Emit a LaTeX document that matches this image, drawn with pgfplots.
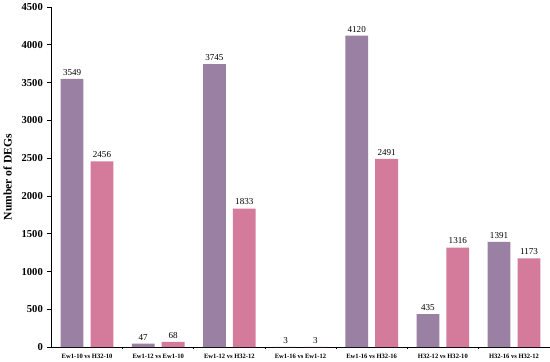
\documentclass[border=0pt]{standalone}
\usepackage{pgfplots}
\pgfplotsset{compat=1.18}
\usepackage{fontspec}
\setmainfont{Liberation Serif}
\definecolor{cpurple}{HTML}{9A80A2}
\definecolor{cpink}{HTML}{D47B9C}
\begin{document}
\begin{tikzpicture}
\begin{axis}[
  scale only axis,
  width=492bp, height=336bp,
  xmin=-0.5, xmax=6.5,
  ymin=0, ymax=4500,
  ytick={0,500,...,4500},
  xtick={0,...,6},
  xticklabels={Ew1-10 vs H32-10, Ew1-12 vs Ew1-10, Ew1-12 vs H32-12, Ew1-16 vs Ew1-12, Ew1-16 vs H32-16, H32-12 vs H32-10, H32-16 vs H32-12},
  minor xtick={0.5,1.5,...,5.5},
  major x tick style={draw=none},
  minor tick length=2bp,
  major tick length=4bp,
  tick align=outside,
  axis lines*=left,
  axis line style={black, line width=0.8pt},
  tick style={black, line width=0.6pt},
  /pgf/number format/assume math mode=true,
  /pgf/number format/1000 sep={},
  yticklabel style={font=\fontsize{10.5}{11}\selectfont\bfseries, xshift=-1bp},
  xticklabel style={font=\fontsize{6.5}{7}\selectfont\bfseries, yshift=1bp},
  ylabel={Number of DEGs},
  ylabel style={font=\fontsize{11.5}{12}\selectfont\bfseries, yshift=3bp},
  ybar,
  bar width=0.32,
  nodes near coords,
  nodes near coords style={font=\fontsize{9}{10}\selectfont, black, /pgf/number format/1000 sep={}},
]
\addplot[fill=cpurple, draw=none, bar shift=-0.21] coordinates {(0,3549) (1,47) (2,3745) (3,3) (4,4120) (5,435) (6,1391)};
\addplot[fill=cpink, draw=none, bar shift=0.21] coordinates {(0,2456) (1,68) (2,1833) (3,3) (4,2491) (5,1316) (6,1173)};
\end{axis}
\end{tikzpicture}
\end{document}
